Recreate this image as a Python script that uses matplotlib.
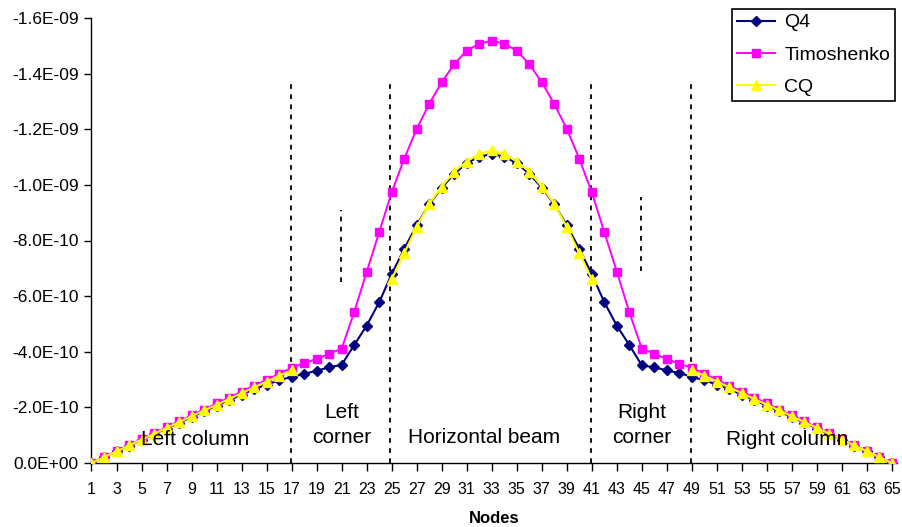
import numpy as np
import matplotlib
matplotlib.use("Agg")
import matplotlib.pyplot as plt
from matplotlib.ticker import FuncFormatter

plt.rcParams['font.family'] = ['Liberation Sans', 'DejaVu Sans']

SCALE = 1e-9
nodes = list(range(1, 66))

q4 = [0, -0.021, -0.042, -0.062, -0.083, -0.104, -0.124, -0.145, -0.165, -0.186, -0.206, -0.226, -0.246, -0.265, -0.282, -0.297, -0.310,
      -0.320, -0.332, -0.344, -0.353, -0.424, -0.494, -0.578,
      -0.679, -0.770, -0.855, -0.930, -0.990, -1.040, -1.078, -1.102, -1.110, -1.102, -1.078, -1.040, -0.990, -0.930, -0.855, -0.770, -0.679,
      -0.578, -0.494, -0.424, -0.351, -0.344, -0.333, -0.323,
      -0.310, -0.297, -0.282, -0.265, -0.246, -0.226, -0.206, -0.186, -0.165, -0.145, -0.124, -0.104, -0.083, -0.062, -0.042, -0.021, 0]

timoshenko = [0, -0.021, -0.043, -0.064, -0.086, -0.107, -0.128, -0.150, -0.171, -0.192, -0.214, -0.235, -0.257, -0.278, -0.299, -0.321, -0.342,
              -0.359, -0.374, -0.393, -0.411, -0.542, -0.687, -0.830,
              -0.973, -1.094, -1.201, -1.291, -1.369, -1.434, -1.483, -1.507, -1.519, -1.507, -1.483, -1.434, -1.369, -1.291, -1.201, -1.094, -0.973,
              -0.830, -0.688, -0.542, -0.411, -0.393, -0.374, -0.357,
              -0.342, -0.321, -0.299, -0.278, -0.257, -0.235, -0.214, -0.192, -0.171, -0.150, -0.128, -0.107, -0.086, -0.064, -0.043, -0.021, 0]

nan = float('nan')
cq = [0, -0.021, -0.042, -0.063, -0.084, -0.105, -0.126, -0.147, -0.168, -0.189, -0.209, -0.230, -0.251, -0.272, -0.293, -0.314, -0.333,
      nan, nan, nan, nan, nan, nan, nan,
      -0.661, -0.754, -0.848, -0.932, -0.994, -1.048, -1.084, -1.112, -1.124, -1.112, -1.084, -1.048, -0.994, -0.932, -0.848, -0.754, -0.661,
      nan, nan, nan, nan, nan, nan, nan,
      -0.333, -0.314, -0.293, -0.272, -0.251, -0.230, -0.209, -0.189, -0.168, -0.147, -0.126, -0.105, -0.084, -0.063, -0.042, -0.021, 0]

y_ticks = [0.0, -2.0e-10, -4.0e-10, -6.0e-10, -8.0e-10, -1.0e-9, -1.2e-9, -1.4e-9, -1.6e-9]
x_ticks = list(range(1, 66, 2))

region_labels = ["Left column", "Left\ncorner", "Horizontal beam", "Right\ncorner", "Right column"]

fig = plt.figure(figsize=(9.03, 5.27), dpi=100)
W, H = 903, 527
ax = fig.add_axes([91.5 / W, (H - 463) / H, (897 - 91.5) / W, (463 - 18) / H])

s = lambda arr: np.array(arr, dtype=float) * SCALE

ax.plot(nodes, s(q4), color='#000080', lw=1.5, marker='D', ms=5, mfc='#000080', mec='#000080', label='Q4', zorder=3)
ax.plot(nodes, s(timoshenko), color='#FF00FF', lw=1.4, marker='s', ms=5.5, mfc='#FF00FF', mec='#FF00FF', label='Timoshenko', zorder=4)
ax.plot(nodes, s(cq), color='#FFFF00', lw=1.5, marker='^', ms=7.5, mfc='#FFFF00', mec='#FFFF00', label='CQ', zorder=5)

# dashed separators
dash_kw = dict(color='black', lw=1.3, linestyle=(0, (2.6, 3.0)), zorder=2)
for xv in [16.95, 24.85, 40.95, 48.95]:
    ax.plot([xv, xv], [0, -1.37e-9], **dash_kw)
ax.plot([20.95, 20.95], [-0.65e-9, -0.91e-9], **dash_kw)
ax.plot([44.97, 44.97], [-0.69e-9, -0.955e-9], **dash_kw)

ax.set_xlim(1, 65.4)
ax.set_ylim(0, -1.6e-9)
ax.set_xticks(x_ticks)
ax.set_yticks(y_ticks)
ax.yaxis.set_major_formatter(FuncFormatter(lambda v, p: f"{v:.1E}"))
ax.tick_params(axis='y', direction='out', length=5, width=1, labelsize=12.5, pad=4)
ax.tick_params(axis='x', direction='out', length=6, width=1, labelsize=11.5, pad=8)
for sp in ['top', 'right']:
    ax.spines[sp].set_visible(False)
for sp in ['left', 'bottom']:
    ax.spines[sp].set_linewidth(1.0)

ax.set_xlabel('Nodes', fontsize=12, fontweight='bold', labelpad=10)

# region labels
lab_kw = dict(fontsize=15, ha='center', va='center', zorder=6)
ax.text(9.25, -0.083e-9, region_labels[0], **lab_kw)
ax.text(21.0, -0.137e-9, region_labels[1], linespacing=1.35, **lab_kw)
ax.text(32.35, -0.09e-9, region_labels[2], **lab_kw)
ax.text(45.0, -0.137e-9, region_labels[3], linespacing=1.35, **lab_kw)
ax.text(56.6, -0.083e-9, region_labels[4], **lab_kw)

leg = ax.legend(loc='upper left', bbox_to_anchor=(732 / W, 1 - 9 / H), bbox_transform=fig.transFigure,
                fontsize=14, frameon=True, fancybox=False, edgecolor='black', framealpha=1,
                handlelength=1.95, handletextpad=0.5, labelspacing=0.75, borderpad=0.25, borderaxespad=0)
leg.get_frame().set_linewidth(1.2)

fig.savefig('out.png', dpi=100)
